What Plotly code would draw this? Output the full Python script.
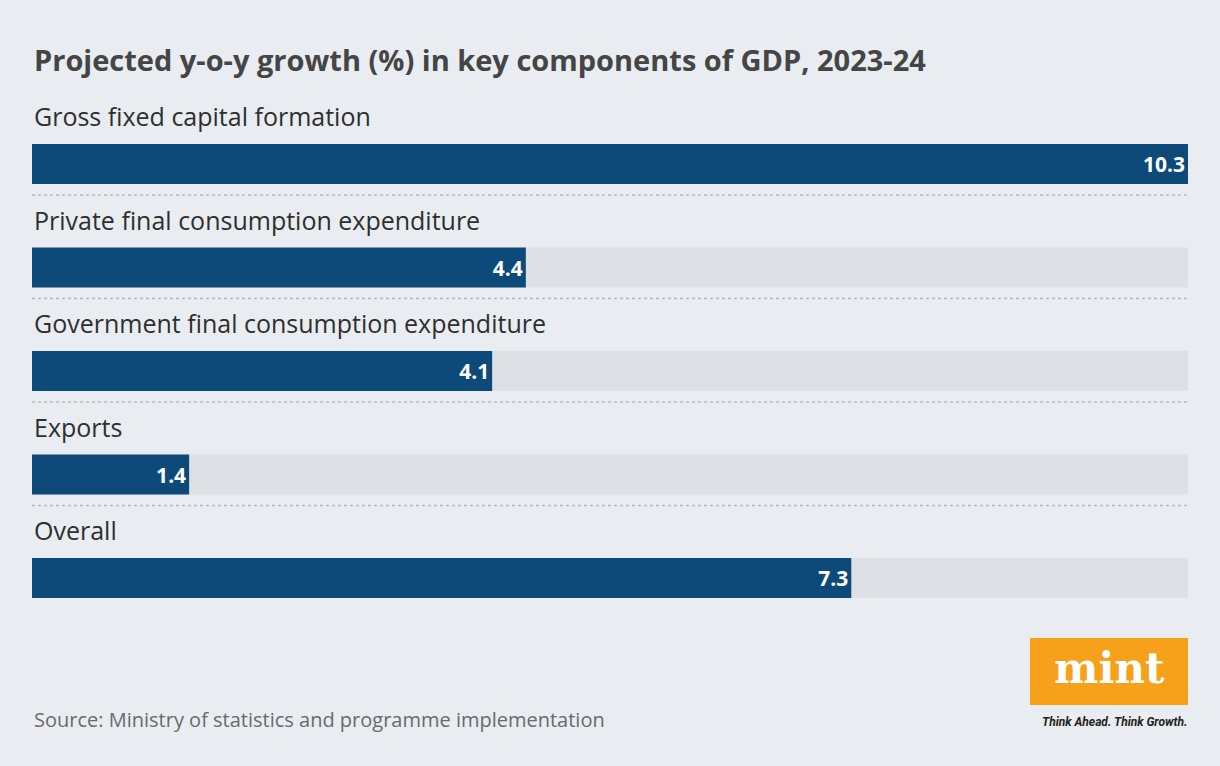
import plotly.graph_objects as go

categories = ["Gross fixed capital formation", "Private final consumption expenditure",
              "Government final consumption expenditure", "Exports", "Overall"]
values = [10.3, 4.4, 4.1, 1.4, 7.3]
scale_max = 10.3

W, H, L, R = 1220, 766, 32, 32


def px(x):
    return (x - L) / (W - L - R)


def py(y):
    return 1 - y / H


idx = list(range(len(categories)))
fig = go.Figure()
fig.add_trace(go.Bar(x=[scale_max] * len(idx), y=idx, orientation="h", width=0.386,
                     marker=dict(color="#dde0e5", line=dict(width=0)), hoverinfo="skip"))
fig.add_trace(go.Bar(x=values, y=idx, orientation="h", width=0.386,
                     marker=dict(color="#0d4a7a", line=dict(width=0)),
                     text=[f"{v}" for v in values], textposition="inside",
                     insidetextanchor="end",
                     textfont=dict(color="white", size=21, family="Open Sans", weight="bold")))

for i, c in enumerate(categories):
    fig.add_annotation(x=0, y=i - 0.46, text=c, showarrow=False, xanchor="left", yanchor="middle",
                       xref="x", yref="y", font=dict(size=25, color="#2f2f2f", family="Open Sans"))
    if i < len(categories) - 1:
        fig.add_shape(type="line", x0=0, x1=scale_max, y0=i + 0.3, y1=i + 0.3,
                      line=dict(color="#b5b9bf", width=1.5, dash="dot"))

fig.add_annotation(x=0, y=py(60), xref="paper", yref="paper", xanchor="left", yanchor="middle",
                   showarrow=False,
                   text="<b>Projected y-o-y growth (%) in key components of GDP, 2023-24</b>",
                   font=dict(size=29, color="#454545", family="Open Sans"))
fig.add_annotation(x=0, y=py(719), xref="paper", yref="paper", xanchor="left", yanchor="middle",
                   showarrow=False,
                   text="Source: Ministry of statistics and programme implementation",
                   font=dict(size=20, color="#6a6a6a", family="Open Sans"))
fig.add_shape(type="rect", xref="paper", yref="paper", x0=px(1030), x1=px(1188),
              y0=py(705), y1=py(638), fillcolor="#f7a11a", line=dict(width=0))
fig.add_annotation(x=px(1109), y=py(668), xref="paper", yref="paper", xanchor="center",
                   yanchor="middle", showarrow=False,
                   text="<b>mint</b>", font=dict(size=42, color="white", family="DejaVu Serif"))
fig.add_annotation(x=px(1189), y=py(722), xref="paper", yref="paper", xanchor="right",
                   yanchor="middle", showarrow=False, text="<i>Think Ahead. Think Growth.</i>",
                   font=dict(size=12, color="#222", family="Roboto", weight="bold"))

fig.update_layout(
    width=W, height=H, barmode="overlay", showlegend=False,
    paper_bgcolor="#e9ecf0", plot_bgcolor="#e9ecf0",
    margin=dict(l=L, r=R, t=0, b=0),
    xaxis=dict(range=[0, scale_max], visible=False, fixedrange=True),
    yaxis=dict(range=[(766 - 164) / 103.5, -164 / 103.5], visible=False, fixedrange=True),
)
fig.write_html("out.html", config={"displayModeBar": False},
               post_script="document.body.style.margin='0';document.body.style.background='#e9ecf0';")
